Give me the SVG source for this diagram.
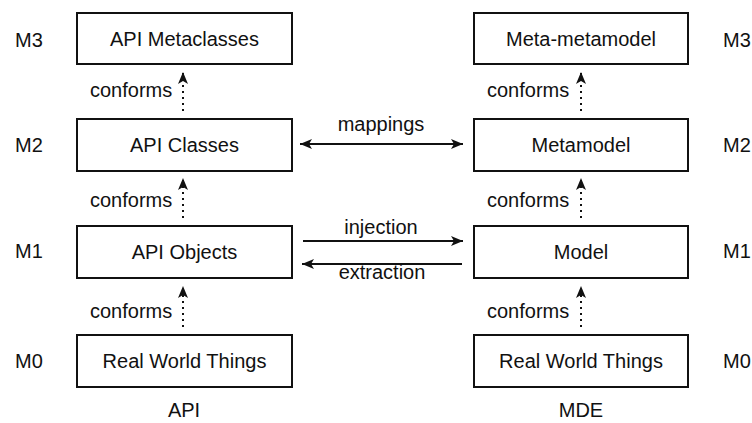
<svg xmlns="http://www.w3.org/2000/svg" width="752" height="423" viewBox="0 0 752 423">
<style>
text{font-family:"Liberation Sans",Arial,sans-serif;font-size:20px;fill:#111}
.box{fill:#fff;stroke:#111;stroke-width:2}
.mid{text-anchor:middle}
.solid{stroke:#111;stroke-width:2;fill:none}
.dot{stroke:#111;stroke-width:2;fill:none;stroke-dasharray:2 4}
</style>
<defs>
<marker id="ah" viewBox="0 0 12 10" refX="12" refY="5" markerWidth="12" markerHeight="10" markerUnits="userSpaceOnUse" orient="auto">
<path d="M0,0 L12,5 L0,10 L3,5 Z" fill="#111"/>
</marker>
</defs>
<rect width="752" height="423" fill="#fff"/>
<g id="levels">
<text x="15" y="47">M3</text>
<text x="15" y="152">M2</text>
<text x="15" y="258">M1</text>
<text x="15" y="368">M0</text>
<text x="723" y="47">M3</text>
<text x="723" y="152">M2</text>
<text x="723" y="258">M1</text>
<text x="723" y="368">M0</text>
</g>
<g id="api-metaclasses"><rect class="box" x="77" y="13" width="215" height="51"/><text class="mid" x="184.5" y="46">API Metaclasses</text></g>
<g id="api-classes"><rect class="box" x="77" y="119" width="215" height="52"/><text class="mid" x="184.5" y="152">API Classes</text></g>
<g id="api-objects"><rect class="box" x="77" y="226" width="215" height="52"/><text class="mid" x="184.5" y="259">API Objects</text></g>
<g id="api-real"><rect class="box" x="77" y="335" width="215" height="52"/><text class="mid" x="184.5" y="368">Real World Things</text></g>
<g id="meta-metamodel"><rect class="box" x="474" y="13" width="214" height="51"/><text class="mid" x="581" y="46">Meta-metamodel</text></g>
<g id="metamodel"><rect class="box" x="474" y="119" width="214" height="52"/><text class="mid" x="581" y="152">Metamodel</text></g>
<g id="model"><rect class="box" x="474" y="226" width="214" height="52"/><text class="mid" x="581" y="259">Model</text></g>
<g id="mde-real"><rect class="box" x="474" y="335" width="214" height="52"/><text class="mid" x="581" y="368">Real World Things</text></g>
<g id="captions">
<text class="mid" x="184" y="417">API</text>
<text class="mid" x="581" y="417">MDE</text>
</g>
<g id="connectors">
<line class="dot" x1="183" y1="111" x2="183" y2="72" marker-end="url(#ah)"/>
<line class="dot" x1="183" y1="218" x2="183" y2="178" marker-end="url(#ah)"/>
<line class="dot" x1="183" y1="327" x2="183" y2="286" marker-end="url(#ah)"/>
<line class="dot" x1="581" y1="111" x2="581" y2="72" marker-end="url(#ah)"/>
<line class="dot" x1="581" y1="218" x2="581" y2="178" marker-end="url(#ah)"/>
<line class="dot" x1="581" y1="327" x2="581" y2="286" marker-end="url(#ah)"/>
<line class="solid" x1="381" y1="144" x2="300" y2="144" marker-end="url(#ah)"/>
<line class="solid" x1="381" y1="144" x2="463" y2="144" marker-end="url(#ah)"/>
<line class="solid" x1="303" y1="241" x2="463" y2="241" marker-end="url(#ah)"/>
<line class="solid" x1="462" y1="264" x2="302" y2="264" marker-end="url(#ah)"/>
<text x="90" y="97">conforms</text>
<text x="90" y="207">conforms</text>
<text x="90" y="318">conforms</text>
<text x="487" y="97">conforms</text>
<text x="487" y="207">conforms</text>
<text x="487" y="318">conforms</text>
<text class="mid" x="381" y="131">mappings</text>
<text class="mid" x="381" y="234">injection</text>
<text class="mid" x="382" y="279">extraction</text>
</g>
</svg>
